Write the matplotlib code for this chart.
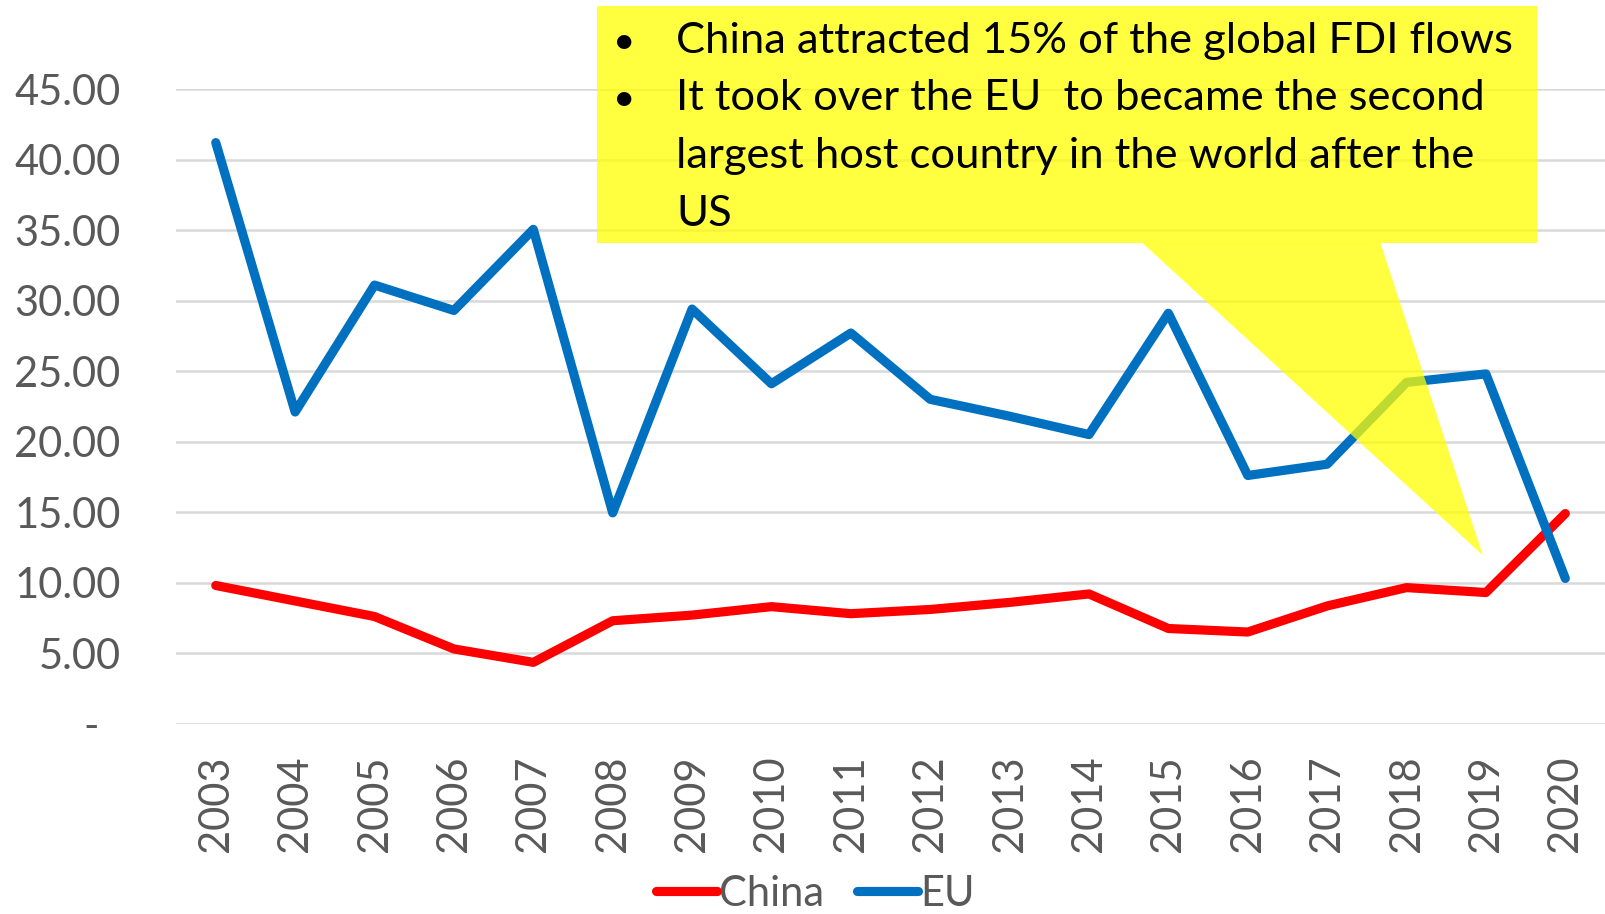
import matplotlib
matplotlib.use("Agg")
import matplotlib.pyplot as plt
from matplotlib.patches import Polygon, Rectangle

years = [str(y) for y in range(2003, 2021)]
china = [9.8, 8.7, 7.6, 5.3, 4.35, 7.3, 7.7, 8.3, 7.8, 8.1, 8.6, 9.2, 6.75, 6.5, 8.35, 9.65, 9.3, 14.9]
eu = [41.2, 22.1, 31.1, 29.3, 35.05, 14.95, 29.4, 24.1, 27.7, 23.0, 21.8, 20.5, 29.1, 17.6, 18.4, 24.2, 24.8, 10.3]
yticks = [0, 5, 10, 15, 20, 25, 30, 35, 40, 45]
note_lines = ["China attracted 15% of the global FDI flows",
              "It took over the EU  to became the second",
              "largest host country in the world after the",
              "US"]
bullet_lines = [0, 1]

plt.rcParams['font.family'] = ['Lato', 'DejaVu Sans']
grey = '#595959'

fig = plt.figure(figsize=(16.05, 9.14), dpi=100)
ax = fig.add_axes([0.1097, 0.2082, 0.8903, 0.6944])

x = range(len(years))
ax.plot(x, china, color='#FF0000', lw=6.6, label='China',
        solid_capstyle='round', solid_joinstyle='round', zorder=3)
ax.plot(x, eu, color='#0070C0', lw=6.6, label='EU',
        solid_capstyle='round', solid_joinstyle='round', zorder=3)

ax.set_xlim(-0.5, len(years) - 0.5)
ax.set_ylim(0, 45)
ax.set_xticks(list(x))
ax.set_xticklabels(years, rotation=90, fontsize=30, color=grey)
ax.set_yticks(yticks)
ax.set_yticklabels([f"{v:.2f}" if v else "-  " for v in yticks], fontsize=30, color=grey)
ax.tick_params(axis='y', length=0, pad=40)
ax.tick_params(axis='x', length=0, pad=23)
ax.grid(axis='y', color='#D9D9D9', lw=1.8)
ax.set_axisbelow(True)
for s in ax.spines.values():
    s.set_visible(False)

# callout box with its pointer
yellow = (1, 1, 0, 0.75)
ax.add_patch(Rectangle((4.8, 34.1), 11.84, 16.8, facecolor=yellow, edgecolor='none',
                       clip_on=False, zorder=4))
ax.add_patch(Polygon([(11.67, 34.1), (14.67, 34.1), (15.96, 11.95)], closed=True,
                     facecolor=yellow, edgecolor='none', clip_on=False, zorder=4))

y0, step = 47.56, 4.08
for i, txt in enumerate(note_lines):
    yb = y0 - i * step
    if i in bullet_lines:
        ax.text(5.0, yb, "•", fontsize=28, color='black', va='baseline', zorder=5, clip_on=False)
    ax.text(5.8, yb, txt, fontsize=31.3, color='black', va='baseline', zorder=5, clip_on=False)

fig.legend(loc='center', bbox_to_anchor=(0.508, 0.022), ncol=2, frameon=False,
           fontsize=30, labelcolor=grey, handlelength=1.45, handletextpad=0.05,
           columnspacing=0.8, borderaxespad=0)

fig.savefig('out.png', dpi=100)
